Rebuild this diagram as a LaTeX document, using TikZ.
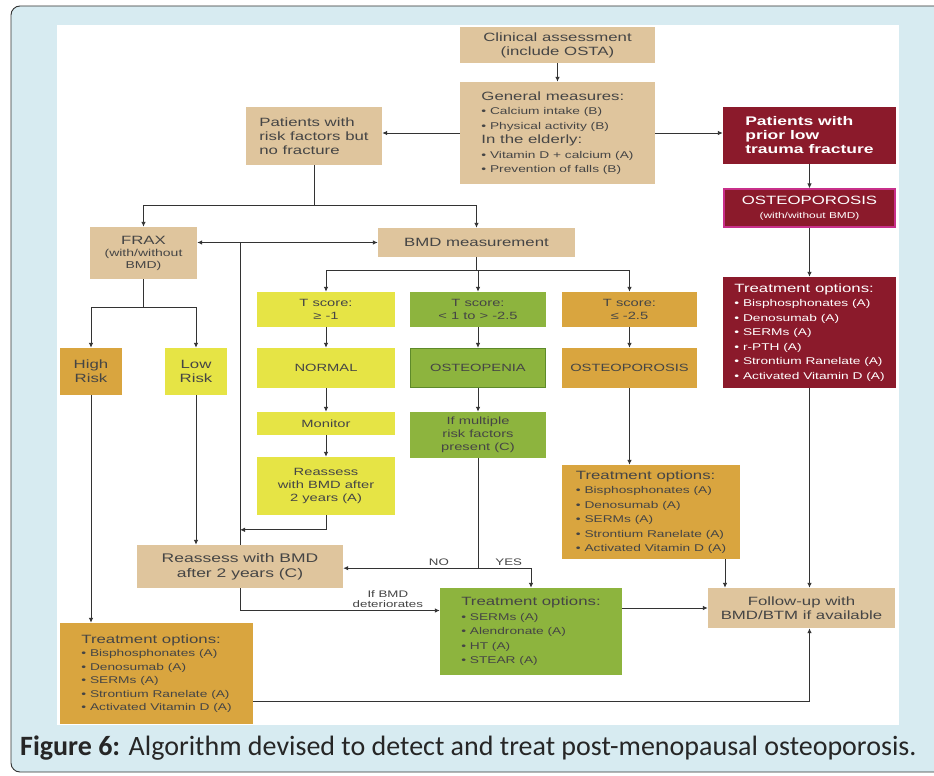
\documentclass[tikz,border=0pt]{standalone}
\usepackage{fontspec}
\setmainfont{Liberation Sans}[FakeStretch=1.4]
\newfontfamily\capfont{Carlito}
\usetikzlibrary{arrows.meta}

\definecolor{boxtan}{HTML}{DFC59D}
\definecolor{boxred}{HTML}{8B1A2B}
\definecolor{boxpink}{HTML}{C8308A}
\definecolor{boxyellow}{HTML}{E6E445}
\definecolor{boxgreen}{HTML}{8DB43E}
\definecolor{boxgreenrim}{HTML}{5E8A2A}
\definecolor{boxgold}{HTML}{D9A53F}
\definecolor{boxtext}{HTML}{454545}
\definecolor{linegray}{HTML}{333333}
\definecolor{frameblue}{HTML}{D7EBF1}

\newcommand{\listhead}[1]{{\fontsize{12}{14.5}\selectfont #1}}

\tikzset{
    box/.style={rectangle, inner sep=2pt, align=center, text=boxtext,
        font=\fontsize{12}{14}\selectfont},
    sz/.style 2 args={minimum width=#1pt, minimum height=#2pt},
    tanbox/.style={box, fill=boxtan},
    redbox/.style={box, fill=boxred, text=white},
    lemonbox/.style={box, fill=boxyellow},
    leafbox/.style={box, fill=boxgreen},
    goldbox/.style={box, fill=boxgold},
    listbox/.style={align=left, font=\fontsize{9.8}{14.5}\selectfont},
    smallbox/.style={font=\fontsize{10.5}{13}\selectfont},
    link/.style={-{Latex[length=5pt,width=4.5pt]}, line width=0.9pt, draw=linegray},
    dlink/.style={link, {Latex[length=5pt,width=4.5pt]}-{Latex[length=5pt,width=4.5pt]}},
    plain/.style={line width=0.9pt, draw=linegray},
    tag/.style={font=\fontsize{9.5}{10.5}\selectfont, text=boxtext, align=center, inner sep=2pt}
}

\begin{document}
\begin{tikzpicture}[x=1pt, y=-1pt]
    \useasboundingbox (0,0) rectangle (934,776);
    % frame and caption
    \draw[fill=frameblue, draw=black!80, line width=0.9pt, rounded corners=9pt]
        (11,6) rectangle (960,772);
    \fill[white] (57,25) rectangle (899,725);
    \node[anchor=base west, inner sep=0pt, text=black!85,
        font=\capfont\fontsize{28}{32}\selectfont] (caption) at (20,755)
        {\textbf{Figure 6:} Algorithm devised to detect and treat post-menopausal osteoporosis.};

    % top row
    \node[tanbox, sz={195}{36}] (clinical) at (557.5,45)
        {Clinical assessment\\(include OSTA)};
    \node[tanbox, listbox, sz={195}{102}] (general) at (557.5,133)
        {\listhead{General measures:}\\• Calcium intake (B)\\• Physical activity (B)\\
         \listhead{In the elderly:}\\• Vitamin D + calcium (A)\\• Prevention of falls (B)};
    \node[tanbox, align=left, sz={136}{58}] (riskpat) at (314,136)
        {Patients with\\risk factors but\\no fracture};
    \node[redbox, align=left, sz={173}{57}, font=\bfseries\fontsize{12.5}{14}\selectfont]
        (fracture) at (809.5,135.5) {Patients with\\prior low\\trauma fracture};
    \node[redbox, sz={171}{38}, draw=boxpink, line width=1.2pt] (osteored) at (809.5,208)
        {OSTEOPOROSIS\\{\fontsize{8.5}{10}\selectfont (with/without BMD)}};
    \node[redbox, listbox, sz={173}{111}] (treatred) at (809.5,332.5)
        {\listhead{Treatment options:}\\• Bisphosphonates (A)\\• Denosumab (A)\\• SERMs (A)\\
         • r-PTH (A)\\• Strontium Ranelate (A)\\• Activated Vitamin D (A)};

    % FRAX and BMD
    \node[tanbox, sz={107}{52}, font=\fontsize{10}{12}\selectfont] (frax) at (143.5,253)
        {{\fontsize{12}{14}\selectfont FRAX}\\(with/without\\BMD)};
    \node[tanbox, sz={197}{29}] (bmd) at (476.5,242.5) {BMD measurement};
    \node[goldbox, sz={62}{47}] (highrisk) at (91,371.5) {High\\Risk};
    \node[lemonbox, sz={62}{47}] (lowrisk) at (196,371.5) {Low\\Risk};

    % T score columns
    \node[lemonbox, smallbox, sz={138}{35}] (tnormal) at (326,309.5) {T score:\\≥ -1};
    \node[leafbox, smallbox, sz={136}{35}] (tpenia) at (478,309.5) {T score:\\< 1 to > -2.5};
    \node[goldbox, smallbox, sz={135}{35}] (tporosis) at (629.5,309.5) {T score:\\≤ -2.5};
    \node[lemonbox, smallbox, sz={138}{40}] (normal) at (326,368) {NORMAL};
    \node[leafbox, smallbox, sz={135}{39}, draw=boxgreenrim, line width=1.2pt]
        (osteopenia) at (478,368) {OSTEOPENIA};
    \node[goldbox, smallbox, sz={135}{40}] (osteogold) at (629.5,368) {OSTEOPOROSIS};
    \node[lemonbox, smallbox, sz={138}{23}] (monitor) at (326,423.5) {Monitor};
    \node[leafbox, smallbox, sz={136}{46}] (multiple) at (478,435)
        {If multiple\\risk factors\\present (C)};
    \node[lemonbox, smallbox, sz={138}{58}] (reassessA) at (326,486)
        {Reassess\\with BMD after\\2 years (A)};
    \node[goldbox, listbox, sz={178}{94}] (treatgold) at (651,512)
        {\listhead{Treatment options:}\\• Bisphosphonates (A)\\• Denosumab (A)\\• SERMs (A)\\
         • Strontium Ranelate (A)\\• Activated Vitamin D (A)};

    % lower part
    \node[tanbox, sz={206}{43}, font=\fontsize{12.5}{15}\selectfont] (reassessC) at (240,566.5)
        {Reassess with BMD\\after 2 years (C)};
    \node[leafbox, listbox, sz={182}{87}] (treatgreen) at (531,631.5)
        {\listhead{Treatment options:}\\• SERMs (A)\\• Alendronate (A)\\• HT (A)\\• STEAR (A)};
    \node[tanbox, sz={187}{40}] (followup) at (801.5,608)
        {Follow-up with\\BMD/BTM if available};
    \node[goldbox, listbox, sz={193}{101}, font=\fontsize{9.8}{13.5}\selectfont]
        (treatlow) at (156.5,673.5)
        {\listhead{Treatment options:}\\• Bisphosphonates (A)\\• Denosumab (A)\\• SERMs (A)\\
         • Strontium Ranelate (A)\\• Activated Vitamin D (A)};

    % connectors
    \draw[link] (clinical) -- (general);
    \draw[link] (general.west) -- (general.west -| riskpat.east);
    \draw[link] (general.east) -- (general.east -| fracture.west);
    \draw[link] (fracture) -- (osteored);
    \draw[link] (osteored) -- (treatred);
    \draw[link] (treatred.south) -- (treatred.south |- followup.north);

    \draw[plain] (riskpat.south) -- ++(0,40) coordinate (riskjoin);
    \draw[link] (riskjoin) -| (frax.north);
    \draw[link] (riskjoin) -| (bmd.north);
    \draw[dlink] (bmd.west) -- (bmd.west -| frax.east);
    \draw[plain] (reassessC.north) -- (reassessC.north |- bmd.west);

    \draw[plain] (frax.south) -- ++(0,28) coordinate (fraxjoin);
    \draw[link] (fraxjoin) -| (highrisk.north);
    \draw[link] (fraxjoin) -| (lowrisk.north);
    \draw[link] (highrisk.south) -- (highrisk.south |- treatlow.north);
    \draw[link] (lowrisk.south) -- (lowrisk.south |- reassessC.north);

    \draw[plain] (bmd.south) -- ++(0,13) coordinate (bmdjoin);
    \draw[link] (bmdjoin) -| (tnormal.north);
    \draw[link] (bmdjoin) -| (tpenia.north);
    \draw[link] (bmdjoin) -| (tporosis.north);

    \draw[link] (tnormal) -- (normal);
    \draw[link] (normal) -- (monitor);
    \draw[link] (monitor) -- (reassessA);
    \draw[link] (reassessA.south) |- ([yshift=15pt]reassessC.north);
    \draw[link] (tpenia) -- (osteopenia);
    \draw[link] (osteopenia) -- (multiple);
    \draw[link] (tporosis) -- (osteogold);
    \draw[link] (osteogold.south) -- (osteogold.south |- treatgold.north);

    \draw[plain] (multiple.south) -- ++(0,110) coordinate (yesno);
    \draw[link] (yesno) -- node[tag, above, pos=0.29] {NO} (yesno -| reassessC.east);
    \draw[link] (yesno) -| node[tag, above, pos=0.29] {YES} (treatgreen.north);
    \draw[link] (reassessC.south) |- node[tag, above, pos=0.87] {If BMD\\deteriorates}
        ([yshift=21pt]treatgreen.west);
    \draw[link] (followup.west -| treatgreen.east) -- (followup.west);
    \draw[link] ([xshift=74pt]treatgold.south) -- ([xshift=74pt]treatgold.south |- followup.north);
    \draw[link] ([yshift=-28pt]treatlow.east) -| (followup.south -| treatred.south);
\end{tikzpicture}
\end{document}
